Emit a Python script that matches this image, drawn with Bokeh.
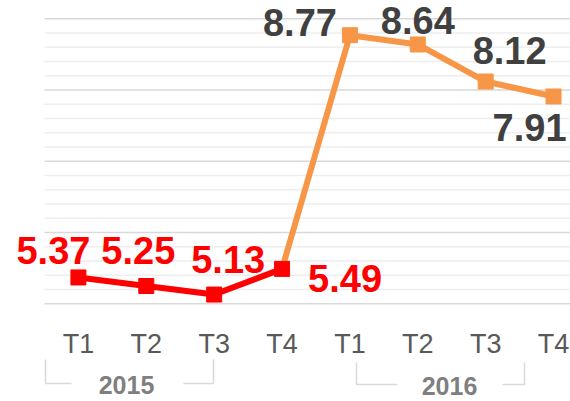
from bokeh.plotting import figure
from bokeh.models import Range1d, LinearAxis, FixedTicker, ColumnDataSource
from bokeh.core.properties import value
from bokeh.embed import file_html
from bokeh.resources import INLINE

# ---- data ----
quarters = ["T1", "T2", "T3", "T4", "T1", "T2", "T3", "T4"]
years = ["2015", "2016"]
values_2015 = [5.37, 5.25, 5.13, 5.49]
values_2016 = [8.77, 8.64, 8.12, 7.91]

# ---- style / layout ----
RED = "#FF0000"
ORANGE = "#F79646"
FONT = "Liberation Sans"
W, H = 570, 401
PLOT_LEFT_PX = 44
UNIT_X = 67.87
X1 = 7.25
X0 = -0.5 - PLOT_LEFT_PX / UNIT_X
Y0, Y1 = 3.629, 9.257
GRID_MIN, GRID_MAX, GRID_MAJOR, GRID_MINOR_N = 5, 9, 1, 5

# label offsets in pixels (dx, dy; dy positive = down)
off_2015 = [(-25, -27), (-8, -36), (14, -35), (63, 10)]
off_2016 = [(-50, -13), (0, -24), (24, -31), (-24, 31)]

p = figure(width=W, height=H, output_backend="svg", toolbar_location=None,
           x_range=Range1d(X0, X1), y_range=Range1d(Y0, Y1),
           x_axis_location=None, y_axis_location=None,
           min_border_left=0, min_border_right=0, min_border_top=0, min_border_bottom=0)
p.outline_line_color = None
p.xgrid.visible = False
p.ygrid.visible = False
p.background_fill_color = "white"
p.border_fill_color = "white"

# horizontal gridlines limited to the plot area
step = GRID_MAJOR / GRID_MINOR_N
n_lines = int(round((GRID_MAX - GRID_MIN) / step))
minor_y = [GRID_MIN + k * step for k in range(n_lines + 1) if k % GRID_MINOR_N]
major_y = [GRID_MIN + k * step for k in range(n_lines + 1) if not k % GRID_MINOR_N]
p.segment(x0=[-0.5] * len(minor_y), x1=[X1] * len(minor_y), y0=minor_y, y1=minor_y,
          line_color="#EEEEEE", line_width=1.5)
p.segment(x0=[-0.5] * len(major_y), x1=[X1] * len(major_y), y0=major_y, y1=major_y,
          line_color="#D9D9D9", line_width=1.5)

# category axis pinned at the bottom gridline
xaxis = LinearAxis(fixed_location=GRID_MIN, ticker=FixedTicker(ticks=list(range(len(quarters)))),
                   major_label_overrides={i: q for i, q in enumerate(quarters)},
                   axis_line_color=None, major_tick_line_color=None, minor_tick_line_color=None,
                   major_label_standoff=19,
                   major_label_text_font=FONT, major_label_text_font_size="27px",
                   major_label_text_color="#595959")
p.add_layout(xaxis, "below")

n15 = len(values_2015)
x15 = list(range(n15))
x16 = list(range(n15, n15 + len(values_2016)))

# orange series (connected from the last 2015 point)
p.line([x15[-1]] + x16, [values_2015[-1]] + values_2016, line_color=ORANGE, line_width=6)
p.scatter(x16, values_2016, marker="square", size=15, fill_color=ORANGE, line_color=ORANGE)

p.line(x15, values_2015, line_color=RED, line_width=6)
p.scatter(x15, values_2015, marker="square", size=15, fill_color=RED, line_color=RED)

src15 = ColumnDataSource(dict(x=x15, y=values_2015, t=[f"{v:.2f}" for v in values_2015],
                              dx=[o[0] for o in off_2015], dy=[o[1] for o in off_2015]))
src16 = ColumnDataSource(dict(x=x16, y=values_2016, t=[f"{v:.2f}" for v in values_2016],
                              dx=[o[0] for o in off_2016], dy=[o[1] for o in off_2016]))
p.text("x", "y", text="t", x_offset="dx", y_offset="dy", source=src15,
       text_font=value(FONT), text_font_style="bold", text_font_size="38px",
       text_color=RED, text_align="center", text_baseline="middle")
p.text("x", "y", text="t", x_offset="dx", y_offset="dy", source=src16,
       text_font=value(FONT), text_font_style="bold", text_font_size="38px",
       text_color="#404040", text_align="center", text_baseline="middle")

# year brackets (pixel layout converted to data)
def dx(px):
    return X0 + px / W * (X1 - X0)
def dy(py):
    return Y1 - py / H * (Y1 - Y0)

brackets = [  # left, gap_left, gap_right, right, top, bottom (px)
    (45, 71, 183, 213, 359, 383),
    (356, 397, 502, 524, 362, 384),
]
year_pos = [(126, 384), (449, 385)]
xs, ys = [], []
for (l, g1, g2, r, t, b) in brackets:
    xs += [[dx(l), dx(l), dx(g1)], [dx(g2), dx(r), dx(r)]]
    ys += [[dy(t), dy(b), dy(b)], [dy(b), dy(b), dy(t)]]
p.multi_line(xs, ys, line_color="#D9D9D9", line_width=1.5)

p.text([dx(x) for x, _ in year_pos], [dy(y) for _, y in year_pos], text=years,
       text_font=value(FONT), text_font_style="bold", text_font_size="25px",
       text_color="#7F7F7F", text_align="center", text_baseline="middle")

open("out.html", "w").write(file_html(p, INLINE))
